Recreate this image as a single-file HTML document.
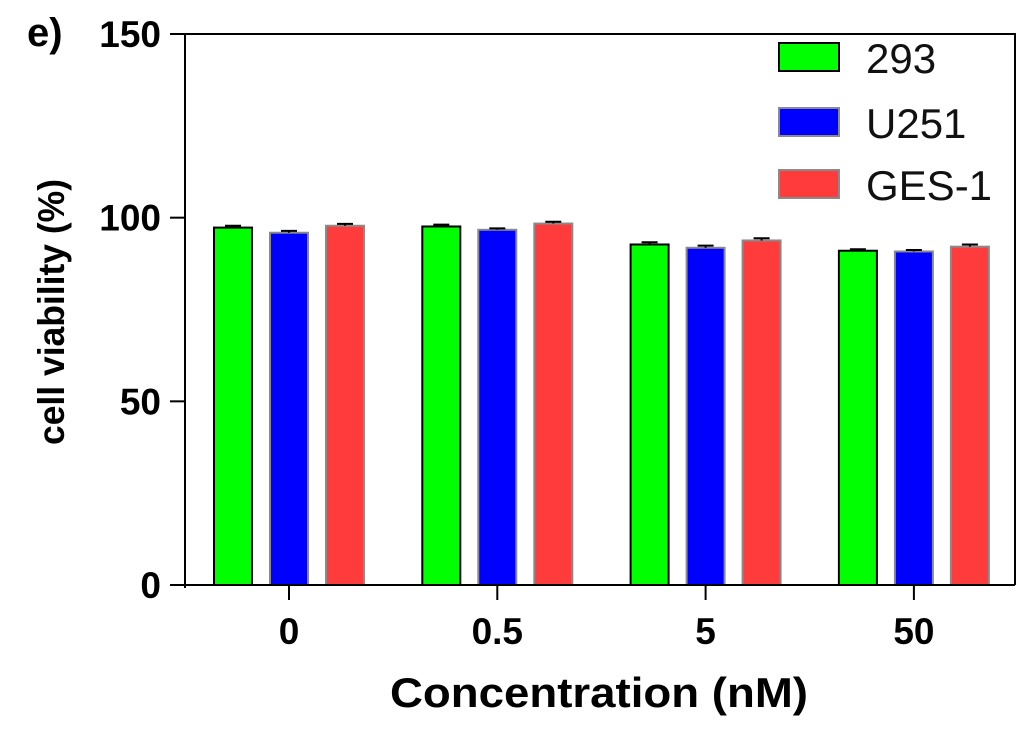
<!DOCTYPE html>
<html><head><meta charset="utf-8"><style>
html,body{margin:0;padding:0;background:#fff;}
svg{display:block;font-family:"Liberation Sans",Arial,sans-serif;}
</style></head><body>
<svg id="chart" width="1024" height="733">
<text x="27" y="46" font-size="40" font-weight="bold" fill="#000">e)</text>
<g id="plot"></g>
</svg>
<script>
const categories = ["0", "0.5", "5", "50"];
const seriesNames = ["293", "U251", "GES-1"];
const v293 = [97.3, 97.6, 92.7, 91.0];
const vU251 = [95.9, 96.7, 91.8, 90.8];
const vGES = [97.8, 98.4, 93.8, 92.1];
const err293 = [0.5, 0.5, 0.6, 0.4];
const errU251 = [0.5, 0.4, 0.6, 0.4];
const errGES = [0.5, 0.5, 0.6, 0.6];
const yTicks = [0, 50, 100, 150];

const NS = "http://www.w3.org/2000/svg";
const g = document.getElementById('plot');
const X0 = 185, X1 = 1015, Y0 = 585, Y1 = 34;
function yS(v){ return Y0 - (v/150)*(Y0-Y1); }
function grpX(i){ return 289 + i*208.3; }
function mk(tag, attrs){ const e=document.createElementNS(NS,tag); for(const k in attrs) e.setAttribute(k,attrs[k]); g.appendChild(e); return e; }

const series = [
  {vals:v293, err:err293, fill:"#00ff00", stroke:"#000", name:"293"},
  {vals:vU251, err:errU251, fill:"#0000ff", stroke:"#8a8a8a", name:"U251"},
  {vals:vGES, err:errGES, fill:"#ff3b3b", stroke:"#8a8a8a", name:"GES-1"}
];
const bw = 38, offs = [-56, 0, 56];
series.forEach((s, si) => {
  s.vals.forEach((v, ci) => {
    const cx = grpX(ci) + offs[si];
    const r = mk('rect', {x:cx-bw/2, y:yS(v), width:bw, height:Y0-yS(v), fill:s.fill, stroke:s.stroke, 'stroke-width':2});
    
    
    const ey = yS(v + s.err[ci]);
    const e1 = mk('path', {d:`M${cx} ${yS(v)}V${ey}M${cx-8} ${ey}H${cx+8}`, stroke:"#000", 'stroke-width':2, fill:"none"});
    
    
  });
});

const ax = mk('path', {d:`M170 ${Y0}H${X1}M${X0} ${Y0+3}V${Y1}H${X1}V${Y0}`, stroke:"#000", 'stroke-width':2, fill:"none"});


yTicks.forEach(t => {
  const y = yS(t);
  const l = mk('line', {x1:170, x2:X0, y1:y, y2:y, stroke:"#000", 'stroke-width':2});
  
  
  const tx = mk('text', {x:161, y:y+13, 'font-size':37, 'font-weight':'bold', 'text-anchor':'end'});
  tx.textContent = t;
  
  
});
categories.forEach((c, i) => {
  const x = grpX(i);
  const l = mk('line', {x1:x, x2:x, y1:Y0, y2:600, stroke:"#000", 'stroke-width':2});
  
  
  const tx = mk('text', {x:x, y:644, 'font-size':37, 'font-weight':'bold', 'text-anchor':'middle'});
  tx.textContent = c;
  
  
});
const xt = mk('text', {x:390, y:707, 'font-size':42, 'font-weight':'bold', textLength:418, lengthAdjust:'spacingAndGlyphs'});
xt.textContent = "Concentration (nM)";


const yt = mk('text', {x:0, y:0, 'font-size':37, 'font-weight':'bold', 'text-anchor':'middle', textLength:266, lengthAdjust:'spacingAndGlyphs', transform:'translate(64,312) rotate(-90)'});
yt.textContent = "cell viability (%)";



const legY = [43, 108, 170];
series.forEach((s, i) => {
  const r = mk('rect', {x:779, y:legY[i], width:60, height:28, fill:s.fill, stroke:s.stroke, 'stroke-width':2});
  
  
  const t = mk('text', {x:866, y:legY[i]+30, 'font-size':42, fill:"#111"});
  t.textContent = s.name;
  
  
});
</script>
</body></html>
